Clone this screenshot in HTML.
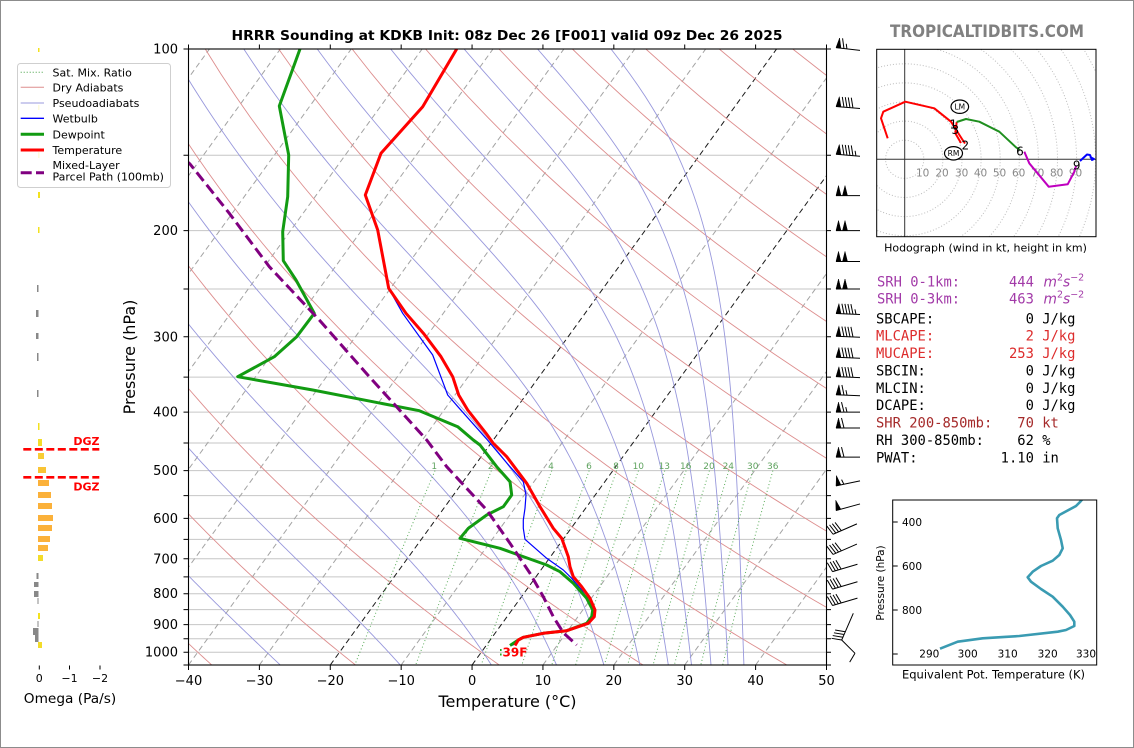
<!DOCTYPE html>
<html><head><meta charset="utf-8"><title>HRRR Sounding KDKB</title>
<style>
html,body{margin:0;padding:0;background:#fff;width:1134px;height:748px;overflow:hidden}
svg{display:block;font-family:"DejaVu Sans","Liberation Sans",sans-serif}
.m{font-family:"DejaVu Sans Mono","Liberation Mono",monospace;font-size:13.8px}
</style></head><body>
<svg id="s" xmlns="http://www.w3.org/2000/svg" width="1134" height="748" viewBox="0 0 1134 748">
<defs>
<clipPath id="cm"><rect x="188.5" y="49" width="638" height="616"/></clipPath>
<clipPath id="ch"><rect x="876.7" y="49.3" width="219.3" height="187.4"/></clipPath>
<clipPath id="ct"><rect x="892.7" y="500" width="204" height="165"/></clipPath>
</defs>
<rect x="0" y="0" width="1134" height="748" fill="#fff"/>
<rect x="0.5" y="0.5" width="1133" height="747" fill="none" stroke="#8c8c8c" stroke-width="1"/>

<!-- background lines (generated) -->
<g id="bg" clip-path="url(#cm)"></g>

<!-- mixing ratio labels -->
<g font-size="9" fill="#5fa35f" text-anchor="middle">
<text x="434.3" y="469">1</text><text x="490.7" y="469">2</text><text x="551" y="469">4</text><text x="589" y="469">6</text><text x="616" y="469">8</text><text x="638.3" y="469">10</text><text x="664.3" y="469">13</text><text x="685.7" y="469">16</text><text x="709" y="469">20</text><text x="728.3" y="469">24</text><text x="752.7" y="469">30</text><text x="772.7" y="469">36</text>
</g>

<!-- traces -->
<g clip-path="url(#cm)" fill="none" stroke-linejoin="round" stroke-linecap="butt">
<polyline stroke="#0000ff" stroke-width="1.2" points="456.7,49 422.7,106.7 381,153.3 365.3,195 377.7,230 388.7,288.3 402.7,313.3 432.7,355 447.7,395 459.3,408.3 486,438.3 510,466.7 523.3,481.7 526,495 525,508.3 523.3,520 523.3,528.3 525,539.3 546.7,558.3 563.3,570 571.7,578.3 581.7,590 590,603.3 593.3,610 591.7,616.7 586.7,623.3 566.7,630.7 543.3,633.3 523.3,637.3 518.3,640 512.5,645.5"/>
<polyline stroke="#129b12" stroke-width="3" points="300,49 279.3,106 288.7,155 287.7,196.7 282.7,231.7 283.3,260.7 296,280 314.3,313.3 296.7,336.7 274.3,356.7 237.7,376.7 312.7,390 372.7,401.7 419.3,410.7 457.7,426.7 473.3,440 480,445 496.7,466.7 510,481.7 511.7,495 503.3,506.7 486.7,515 468.3,528.3 460,538.3 500,548.3 546.7,565 560,571.7 573.3,583.3 586.7,598.3 592.7,610 591.7,616.7 586.7,623.3 566.7,630.7 543.3,633.3 523.3,637.3 518.3,640 510,645.5"/>
<polyline stroke="#ff0000" stroke-width="3" points="456.7,49 422.7,106.7 381,153.3 365.3,195 377.7,230 388.7,288.3 406,313.3 424,334 441,356.7 452.7,376.7 458.7,395 467.7,410 486,433.3 493,443 506.7,456.7 526.7,483.3 540,506.7 553.3,528.3 561.7,538.3 568.3,556.7 570,566.7 573.3,576.7 581.7,586.7 590,598.3 595,610 594.3,616.7 588.3,623.3 566.7,630.7 543.3,633.3 523.3,637.3 518.3,640 515,645.5"/>
<polyline stroke="#800080" stroke-width="3" stroke-dasharray="11,5" points="186,160.5 190,164 229.3,213.3 269.3,266.7 319.3,320 369.3,376.7 426.7,440 446.7,466.7 486.7,510 510,543.3 530,573.3 543.3,596.7 553.3,616.7 563.3,632.7 576.7,645"/>
</g>
<rect x="500" y="649" width="1.6" height="2" fill="#22aa22"/>
<rect x="500" y="653.5" width="1.6" height="2" fill="#22aa22"/>
<text x="502.5" y="656.5" font-size="12" font-weight="bold" fill="#ff0000">39F</text>

<!-- axes, ticks (generated) -->
<g id="ax"></g>
<rect x="188.5" y="49" width="638" height="616" fill="none" stroke="#000" stroke-width="1.1"/>

<!-- wind barbs (generated) -->
<g id="wb"></g>

<!-- title -->
<text x="507" y="40" font-size="13" font-weight="bold" text-anchor="middle" textLength="551" lengthAdjust="spacingAndGlyphs">HRRR Sounding at KDKB Init: 08z Dec 26 [F001] valid 09z Dec 26 2025</text>
<text x="987" y="37" font-size="16.5" font-weight="bold" fill="#808080" text-anchor="middle" textLength="194" lengthAdjust="spacingAndGlyphs">TROPICALTIDBITS.COM</text>

<!-- y tick labels -->
<g font-size="13" text-anchor="end">
<text x="178" y="53.5">100</text><text x="178" y="235.1">200</text><text x="178" y="341.3">300</text><text x="178" y="416.7">400</text><text x="178" y="475.1">500</text><text x="178" y="522.9">600</text><text x="178" y="563.3">700</text><text x="178" y="598.2">800</text><text x="178" y="629.1">900</text><text x="178" y="656.7">1000</text>
</g>
<!-- x tick labels -->
<g font-size="13" text-anchor="middle">
<text x="188.5" y="685">−40</text><text x="259.4" y="685">−30</text><text x="330.3" y="685">−20</text><text x="401.2" y="685">−10</text><text x="472.1" y="685">0</text><text x="542.9" y="685">10</text><text x="613.8" y="685">20</text><text x="684.7" y="685">30</text><text x="755.6" y="685">40</text><text x="826.5" y="685">50</text>
</g>
<text x="507.5" y="707" font-size="16" text-anchor="middle">Temperature (°C)</text>
<text transform="translate(135,357) rotate(-90)" font-size="16" text-anchor="middle">Pressure (hPa)</text>

<!-- omega panel -->
<g>
<rect x="38" y="48" width="1.5" height="4" fill="#f3e21f"/>
<rect x="38" y="105" width="1.5" height="5" fill="#f3e21f"/>
<rect x="38" y="152" width="1.5" height="6" fill="#f3e21f"/>
<rect x="38" y="192" width="2" height="6" fill="#f3e21f"/>
<rect x="38" y="227" width="1.5" height="6" fill="#f3e21f"/>
<rect x="37" y="285" width="1.5" height="7" fill="#888"/>
<rect x="36" y="310" width="2.5" height="7" fill="#888"/>
<rect x="36" y="333" width="2.5" height="6" fill="#888"/>
<rect x="37" y="353" width="1.5" height="8" fill="#888"/>
<rect x="37" y="390" width="1.5" height="7" fill="#888"/>
<rect x="38" y="423" width="1.5" height="7" fill="#f3e21f"/>
<rect x="38" y="439" width="4" height="7" fill="#f3dc2a"/>
<rect x="38" y="453" width="6" height="6" fill="#f8cd35"/>
<rect x="38" y="467" width="8" height="6" fill="#f9c435"/>
<rect x="38" y="480" width="11" height="6" fill="#fbb13a"/>
<rect x="38" y="492" width="13" height="6" fill="#fbb13a"/>
<rect x="38" y="503" width="14" height="6" fill="#fbb13a"/>
<rect x="38" y="515" width="15" height="6" fill="#fbb13a"/>
<rect x="38" y="525" width="14" height="6" fill="#fbb13a"/>
<rect x="38" y="536" width="12" height="6" fill="#fbb13a"/>
<rect x="38" y="545" width="10" height="6" fill="#fbb43a"/>
<rect x="38" y="555" width="5" height="6" fill="#f3dc2a"/>
<rect x="36.5" y="573" width="2" height="6" fill="#888"/>
<rect x="34" y="582" width="4.5" height="5" fill="#888"/>
<rect x="34" y="591" width="4.5" height="6" fill="#888"/>
<rect x="37.5" y="598" width="1" height="6" fill="#888"/>
<rect x="38" y="613" width="2" height="6" fill="#f3e21f"/>
<rect x="37.5" y="621" width="1" height="6" fill="#888"/>
<rect x="33" y="628" width="5.5" height="7" fill="#888"/>
<rect x="35" y="635" width="3.5" height="7" fill="#888"/>
<rect x="38" y="642" width="4" height="6" fill="#f3dc2a"/>
</g>
<g stroke="#ff0000" stroke-width="2.6" stroke-dasharray="8,3.5">
<line x1="23.3" y1="449.3" x2="99.3" y2="449.3"/>
<line x1="23.3" y1="477.3" x2="99.3" y2="477.3"/>
</g>
<text x="99.5" y="445" font-size="11" font-weight="bold" fill="#ff0000" text-anchor="end">DGZ</text>
<text x="99.5" y="490.5" font-size="11" font-weight="bold" fill="#ff0000" text-anchor="end">DGZ</text>
<g stroke="#000" stroke-width="1">
<line x1="39.3" y1="665.5" x2="39.3" y2="669.5"/><line x1="69.5" y1="665.5" x2="69.5" y2="669.5"/><line x1="100" y1="665.5" x2="100" y2="669.5"/>
</g>
<g font-size="11" text-anchor="middle">
<text x="39.3" y="682">0</text><text x="69.5" y="682">−1</text><text x="100" y="682">−2</text>
</g>
<text x="70" y="703" font-size="13.7" text-anchor="middle">Omega (Pa/s)</text>

<!-- legend -->
<rect x="17.5" y="63.5" width="153" height="124" rx="3" ry="3" fill="#fff" fill-opacity="0.85" stroke="#cfcfcf" stroke-width="1"/>
<g fill="none">
<line x1="20.7" y1="72.3" x2="44" y2="72.3" stroke="#3f9f3f" stroke-width="1" stroke-dasharray="1,2"/>
<line x1="20.7" y1="87.3" x2="44" y2="87.3" stroke="#dd8e8e" stroke-width="1"/>
<line x1="20.7" y1="103" x2="44" y2="103" stroke="#9898dc" stroke-width="1"/>
<line x1="20.7" y1="118.3" x2="44" y2="118.3" stroke="#0000ff" stroke-width="1.3"/>
<line x1="20.7" y1="134.3" x2="44" y2="134.3" stroke="#129b12" stroke-width="3"/>
<line x1="20.7" y1="150" x2="44" y2="150" stroke="#ff0000" stroke-width="3"/>
<line x1="20.7" y1="172.7" x2="44" y2="172.7" stroke="#800080" stroke-width="3" stroke-dasharray="11,4.3"/>
</g>
<g font-size="11">
<text x="52.5" y="76.3">Sat. Mix. Ratio</text>
<text x="52.5" y="91.3">Dry Adiabats</text>
<text x="52.5" y="107">Pseudoadiabats</text>
<text x="52.5" y="122.3">Wetbulb</text>
<text x="52.5" y="138.3">Dewpoint</text>
<text x="52.5" y="154">Temperature</text>
<text x="52.5" y="169">Mixed-Layer</text>
<text x="52.5" y="180.7">Parcel Path (100mb)</text>
</g>

<!-- hodograph -->
<g clip-path="url(#ch)">
<g fill="none" stroke="#bdbdbd" stroke-width="1" stroke-dasharray="1,2">
<circle cx="904.7" cy="159.3" r="19.1"/><circle cx="904.7" cy="159.3" r="38.2"/><circle cx="904.7" cy="159.3" r="57.3"/><circle cx="904.7" cy="159.3" r="76.4"/><circle cx="904.7" cy="159.3" r="95.5"/><circle cx="904.7" cy="159.3" r="114.6"/><circle cx="904.7" cy="159.3" r="133.7"/><circle cx="904.7" cy="159.3" r="152.8"/><circle cx="904.7" cy="159.3" r="171.9"/><circle cx="904.7" cy="159.3" r="191"/><circle cx="904.7" cy="159.3" r="210.1"/><circle cx="904.7" cy="159.3" r="229.2"/>
</g>
<line x1="904.7" y1="49.3" x2="904.7" y2="236.7" stroke="#333" stroke-width="1"/>
<line x1="876.7" y1="159.3" x2="1096" y2="159.3" stroke="#333" stroke-width="1"/>
<g font-size="10.5" fill="#888" text-anchor="middle">
<text x="922.7" y="176.5">10</text><text x="942" y="176.5">20</text><text x="961.7" y="176.5">30</text><text x="980.5" y="176.5">40</text><text x="999.5" y="176.5">50</text><text x="1018.7" y="176.5">60</text><text x="1037.7" y="176.5">70</text><text x="1056.7" y="176.5">80</text><text x="1075.5" y="176.5">90</text>
</g>
<g fill="none" stroke-width="2" stroke-linejoin="round">
<polyline stroke="#ff0000" points="887.7,138.3 881,118.3 883.3,111.7 905.3,101.7 934.3,108.3 951,121.7 955,128 962,139 965,143.5"/>
<polyline stroke="#ff0000" points="961,143 955.3,133.3 956.7,122"/>
<polyline stroke="#1f8f1f" points="956.7,122 966,119 979.3,121.7 999.3,131.7 1016,147.3 1020,150"/>
<polyline stroke="#bf00bf" points="1024.3,151.7 1029.3,163.3 1048.7,186.7 1067.7,184.3 1074.3,171.7 1076,166"/>
<polyline stroke="#0000ff" points="1080,161 1087,154.5 1090,155 1092,160 1094,159 1090,157"/>
</g>
<ellipse cx="959.8" cy="106.7" rx="8.8" ry="6.7" fill="#fff" stroke="#000" stroke-width="1.2"/>
<text x="959.8" y="109.5" font-size="7.5" text-anchor="middle">LM</text>
<ellipse cx="953.5" cy="153.3" rx="9" ry="6.7" fill="#fff" stroke="#000" stroke-width="1.2"/>
<text x="953.5" y="156.1" font-size="7.5" text-anchor="middle">RM</text>
<g font-size="12" text-anchor="middle">
<text x="955.3" y="134">3</text>
<text x="953.3" y="128.5">1</text>
<text x="965.3" y="149.3">2</text>
<text x="1020" y="155.3">6</text>
<text x="1076.7" y="169.3">9</text>
</g>
</g>
<rect x="876.7" y="49.3" width="219.3" height="187.4" fill="none" stroke="#000" stroke-width="1"/>
<text x="985.5" y="251.5" font-size="11" text-anchor="middle">Hodograph (wind in kt, height in km)</text>

<!-- stats -->
<g class="m">
<text x="877" y="286.7" fill="#a23aa8">SRH 0-1km:</text><text x="1033.9" y="286.7" fill="#a23aa8" text-anchor="end">444</text>
<text x="1043.5" y="286.7" fill="#a23aa8" font-family="DejaVu Sans, sans-serif"><tspan font-style="italic">m</tspan><tspan font-size="9.5" dy="-6">2</tspan><tspan font-style="italic" dy="6">s</tspan><tspan font-size="9.5" dy="-6">−2</tspan></text>
<text x="877" y="303.3" fill="#a23aa8">SRH 0-3km:</text><text x="1033.9" y="303.3" fill="#a23aa8" text-anchor="end">463</text>
<text x="1043.5" y="303.3" fill="#a23aa8" font-family="DejaVu Sans, sans-serif"><tspan font-style="italic">m</tspan><tspan font-size="9.5" dy="-6">2</tspan><tspan font-style="italic" dy="6">s</tspan><tspan font-size="9.5" dy="-6">−2</tspan></text>
<text x="876" y="323.3">SBCAPE:</text><text x="1033.9" y="323.3" text-anchor="end">0</text><text x="1042.2" y="323.3">J/kg</text>
<text x="876" y="340.7" fill="#dd2c2c">MLCAPE:</text><text x="1033.9" y="340.7" text-anchor="end" fill="#dd2c2c">2</text><text x="1042.2" y="340.7" fill="#dd2c2c">J/kg</text>
<text x="876" y="358.1" fill="#dd2c2c">MUCAPE:</text><text x="1033.9" y="358.1" text-anchor="end" fill="#dd2c2c">253</text><text x="1042.2" y="358.1" fill="#dd2c2c">J/kg</text>
<text x="876" y="375.4">SBCIN:</text><text x="1033.9" y="375.4" text-anchor="end">0</text><text x="1042.2" y="375.4">J/kg</text>
<text x="876" y="392.8">MLCIN:</text><text x="1033.9" y="392.8" text-anchor="end">0</text><text x="1042.2" y="392.8">J/kg</text>
<text x="876" y="410.2">DCAPE:</text><text x="1033.9" y="410.2" text-anchor="end">0</text><text x="1042.2" y="410.2">J/kg</text>
<text x="876" y="427.6" fill="#a52a2a">SHR 200-850mb:</text><text x="1033.9" y="427.6" text-anchor="end" fill="#a52a2a">70</text><text x="1042.2" y="427.6" fill="#a52a2a">kt</text>
<text x="876" y="445">RH 300-850mb:</text><text x="1033.9" y="445" text-anchor="end">62</text><text x="1042.2" y="445">%</text>
<text x="876" y="462.3">PWAT:</text><text x="1033.9" y="462.3" text-anchor="end">1.10</text><text x="1042.2" y="462.3">in</text>
</g>

<!-- theta-e panel -->
<g clip-path="url(#ct)">
<polyline fill="none" stroke="#3a9bb2" stroke-width="2.6" stroke-linejoin="round" points="1083,498.5 1080.3,501.7 1076,506 1059.3,515 1057,518.3 1057.7,528.3 1061,540 1062.7,548.3 1059.3,555 1052.7,560.7 1041,566 1032.7,571.7 1027.7,577.3 1031,581.7 1041,589 1052.7,596.7 1062.7,606.7 1070,615 1074.3,621.7 1074.3,626 1066,630 1057.7,631.7 1019.3,636 982.7,638.3 957.7,641.7 940,648.7"/>
</g>
<rect x="892.7" y="500" width="204" height="165" fill="none" stroke="#000" stroke-width="1"/>
<g stroke="#000" stroke-width="1">
<line x1="892.7" y1="522" x2="897.7" y2="522"/><line x1="892.7" y1="566" x2="897.7" y2="566"/><line x1="892.7" y1="610" x2="897.7" y2="610"/><line x1="892.7" y1="654" x2="897.7" y2="654"/>
</g>
<g font-size="10.5" text-anchor="start">
<text x="902" y="526">400</text><text x="902" y="570">600</text><text x="902" y="614">800</text>
</g>
<g font-size="10.5" text-anchor="middle">
<text x="929.3" y="657.3">290</text><text x="967.7" y="657.3">300</text><text x="1007.7" y="657.3">310</text><text x="1047.7" y="657.3">320</text><text x="1086" y="657.3">330</text>
</g>
<text transform="translate(884,583) rotate(-90)" font-size="10.5" text-anchor="middle">Pressure (hPa)</text>
<text x="993.5" y="678.5" font-size="11.5" text-anchor="middle">Equivalent Pot. Temperature (K)</text>
</svg>
<script>
(function(){
var NS='http://www.w3.org/2000/svg';
var L=188.5,R=826.5,TOP=49,B=665,KX=638/90,SK=0.7245,DEC=603.2;
function Y(p){return TOP+DEC*Math.log(p/100)/Math.LN10;}
function X(t,y){return L+(t+40)*KX+(B-y)*SK;}
function el(par,tag,a){var e=document.createElementNS(NS,tag);for(var k in a){e.setAttribute(k,a[k]);}par.appendChild(e);return e;}
function pd(pts){var s='';for(var i=0;i<pts.length;i++){s+=(i?'L':'M')+pts[i][0].toFixed(2)+' '+pts[i][1].toFixed(2);}return s;}
var bg=document.getElementById('bg');
var p,t,n,i,y;
for(p=150;p<=1000;p+=50){y=Y(p);el(bg,'line',{x1:L,x2:R,y1:y,y2:y,stroke:'#c6c6c6','stroke-width':1});}
for(t=-160;t<=50;t+=10){var blk=(t===0||t===-20);el(bg,'line',{x1:X(t,B),y1:B,x2:X(t,TOP),y2:TOP,stroke:blk?'#1a1a1a':'#a3a3a3','stroke-width':1,'stroke-dasharray':'5.5,3.5'});}
for(n=-6;n<=16;n++){var th=233.15+20*n;var pts=[];for(p=100;p<=1050;p+=10){var T=th*Math.pow(p/1000,0.28571)-273.15;y=Y(p);pts.push([X(T,y),y]);}el(bg,'path',{d:pd(pts),fill:'none',stroke:'#dd8e8e','stroke-width':0.9});}
function es(T){var c=T-273.15;return 6.112*Math.exp(17.67*c/(c+243.5));}
var Rd=287.04749,Lv=2.50084e6,Cp=1004.6662,EPS=0.6219569;
function f(p,T){var e=es(T);var rs=EPS*e/(p-e);return (Rd*T+Lv*rs)/(p*(Cp+Lv*Lv*rs*EPS/(Rd*T*T)));}
for(n=-3;n<=10;n++){
  var thT=243.65+20*n;var pp=100;var TT=thT*Math.pow(0.1,0.28571);
  var mp=[[X(TT-273.15,Y(pp)),Y(pp)]];var h=5;
  while(pp<1049.99){
    var k1=f(pp,TT),k2=f(pp+h/2,TT+h/2*k1),k3=f(pp+h/2,TT+h/2*k2),k4=f(pp+h,TT+h*k3);
    TT+=h/6*(k1+2*k2+2*k3+k4);pp+=h;y=Y(pp);mp.push([X(TT-273.15,y),y]);
  }
  el(bg,'path',{d:pd(mp),fill:'none',stroke:'#9898dc','stroke-width':0.9});
}
var ws=[1,2,4,6,8,10,13,16,20,24,30,36];
for(i=0;i<ws.length;i++){var w=ws[i]/1000;var mr=[];for(p=500;p<=1050;p+=10){var e=p*w/(0.622+w);var lg=Math.log(e/6.112);var td=243.5*lg/(17.67-lg);y=Y(p);mr.push([X(td,y),y]);}
el(bg,'path',{d:pd(mr),fill:'none',stroke:'#3f9f3f','stroke-width':1,'stroke-dasharray':'1,2.5','stroke-opacity':0.85});}
var ax=document.getElementById('ax');var ts='';
for(p=100;p<=1050;p+=50){y=Y(p);ts+='M183.5 '+y.toFixed(2)+'H188.5M826.5 '+y.toFixed(2)+'H831';}
for(t=-40;t<=50;t+=10){var x=L+(t+40)*KX;ts+='M'+x.toFixed(2)+' 665V670M'+x.toFixed(2)+' 44.5V49';}
el(ax,'path',{d:ts,stroke:'#000','stroke-width':1,fill:'none'});
var wb=document.getElementById('wb');
function barb(tx,ty,hx,hy,nf,nb,nh){
  var dx=tx-hx,dy=ty-hy,len=Math.sqrt(dx*dx+dy*dy),ux=dx/len,uy=dy/len,nx=-uy,ny=ux;
  var s='M'+hx.toFixed(2)+' '+hy.toFixed(2)+'L'+tx.toFixed(2)+' '+ty.toFixed(2);
  var poly='';var W=5,H=10,SP=3;var d=0,j,ax2,ay2;
  for(j=0;j<nf;j++){
    if(j>0)d-=SP/2;
    var a1x=tx-ux*d,a1y=ty-uy*d,b1x=tx-ux*(d+W),b1y=ty-uy*(d+W),m1x=tx-ux*(d+W/2)+nx*H,m1y=ty-uy*(d+W/2)+ny*H;
    poly+='M'+a1x.toFixed(2)+' '+a1y.toFixed(2)+'L'+m1x.toFixed(2)+' '+m1y.toFixed(2)+'L'+b1x.toFixed(2)+' '+b1y.toFixed(2)+'Z';
    d+=W+SP;
  }
  for(j=0;j<nb;j++){
    ax2=tx-ux*d;ay2=ty-uy*d;
    s+='M'+ax2.toFixed(2)+' '+ay2.toFixed(2)+'L'+(ax2+nx*H+ux*W/2).toFixed(2)+' '+(ay2+ny*H+uy*W/2).toFixed(2);
    d+=SP;
  }
  if(nh){
    if(d===0)d=1.5*SP;
    ax2=tx-ux*d;ay2=ty-uy*d;
    s+='M'+ax2.toFixed(2)+' '+ay2.toFixed(2)+'L'+(ax2+nx*H/2+ux*W/4).toFixed(2)+' '+(ay2+ny*H/2+uy*W/4).toFixed(2);
  }
  el(wb,'path',{d:s,stroke:'#000','stroke-width':1,fill:'none'});
  if(poly)el(wb,'path',{d:poly,fill:'#000',stroke:'#000','stroke-width':0.5});
}
var up=[[100,-2.7,1,1,1],[125,-2,1,4,0],[150,-2,1,4,1],[175,0,2,0,0],[200,0,2,0,0],[225,0,2,0,0],[250,0,2,0,0],[275,-1,1,4,1],[300,-1,1,4,0],[325,-1,1,4,0],[350,-1,1,4,0],[375,-1,1,1,1],[400,0,1,1,1],[425,0,1,1,0],[475,0,1,1,0],[525,5,1,0,1],[575,6.6,1,0,0]];
for(i=0;i<up.length;i++){var u=up[i];var cy=Y(u[0]);barb(836,cy+u[1]/2,860,cy-u[1]/2,u[2],u[3],u[4]);}
var lo=[[625,11.6/26.7],[675,11.6/26.7],[725,8.4/28.3],[775,8.3/28.3],[825,8.4/28.3]];
for(i=0;i<lo.length;i++){var c=lo[i];var cy2=Y(c[0]);var ang=Math.atan(c[1]);var hl=13;var cx=845;
  barb(cx-Math.cos(ang)*hl,cy2+Math.sin(ang)*hl,cx+Math.cos(ang)*hl,cy2-Math.sin(ang)*hl,0,4,0);}
barb(841.7,640,853.3,613.3,0,4,0);
barb(855,653.3,841.7,640,0,1,0);
})();
</script>
</body></html>
